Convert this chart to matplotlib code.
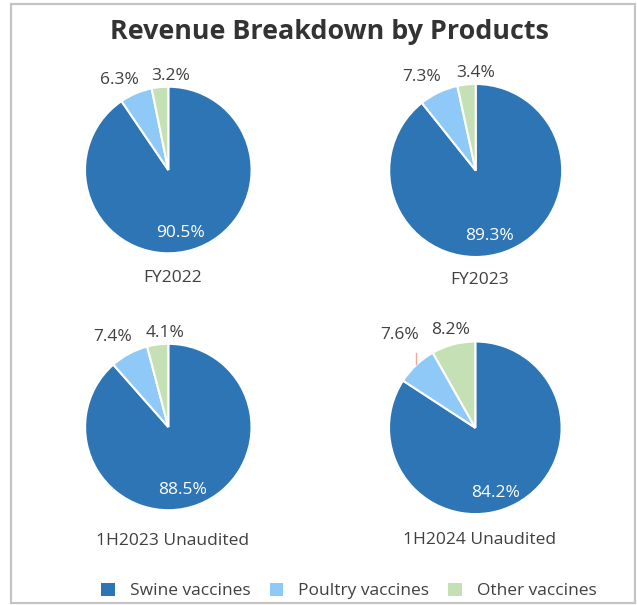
import numpy as np
import matplotlib
matplotlib.use("Agg")
import matplotlib.pyplot as plt
from matplotlib.patches import Patch, Rectangle

plt.rcParams['font.family'] = ['Open Sans', 'DejaVu Sans']

# ---- data ----
periods = ["FY2022", "FY2023", "1H2023 Unaudited", "1H2024 Unaudited"]
categories = ["Swine vaccines", "Poultry vaccines", "Other vaccines"]
swine = [90.5, 89.3, 88.5, 84.2]
poultry = [6.3, 7.3, 7.4, 7.6]
other = [3.2, 3.4, 4.1, 8.2]

colors = ["#2E75B6", "#8FC9F8", "#C5E0B4"]
text_color = "#404040"

W, H = 637, 605
fig = plt.figure(figsize=(W / 100, H / 100), dpi=100)

# frame around chart
fig.patches.append(Rectangle((11 / W, 1 - 603 / H), (635 - 11) / W, (603 - 4) / H,
                             transform=fig.transFigure, fill=False,
                             edgecolor="#C4C4C4", linewidth=1.6))

fig.text(329 / W, 1 - 32 / H, "Revenue Breakdown by Products", ha="center", va="center",
         fontsize=19.4, fontweight="bold", color="#333333")

# pie placement (pixel centres and radii) - layout only
centers = [(168.3, 170.0), (475.7, 170.5), (168.3, 427.0), (475.3, 427.8)]
radii = [83.3, 86.5, 83.2, 86.3]
title_y = [278, 280, 541, 540]
leader = [False, False, False, True]

for i, name in enumerate(periods):
    cx, cy = centers[i]
    r = radii[i]
    ax = fig.add_axes([(cx - r) / W, 1 - (cy + r) / H, 2 * r / W, 2 * r / H])
    vals = [swine[i], poultry[i], other[i]]
    wedges, _ = ax.pie(vals, colors=colors, startangle=90, counterclock=False, radius=1,
                       wedgeprops=dict(edgecolor="white", linewidth=1.5))
    ax.set_xlim(-1, 1)
    ax.set_ylim(-1, 1)
    ax.set_aspect("equal")
    ax.axis("off")
    tot = sum(vals)
    cum = np.cumsum([0] + vals) / tot
    mids = [np.deg2rad(90 - 360 * (cum[k] + cum[k + 1]) / 2) for k in range(3)]
    # swine label inside (near the bottom of the pie)
    ax.text(0.5 * np.cos(mids[0]), -0.755, f"{swine[i]:.1f}%",
            ha="center", va="center", color="white", fontsize=12.5)
    # poultry label outside
    ax.text(np.cos(mids[1]) + 0.03, 1.08, f"{poultry[i]:.1f}%", ha="right", va="center",
            color=text_color, fontsize=12.5, clip_on=False)
    # other label outside
    left_b = np.deg2rad(90 + 360 * other[i] / tot)
    ax.text(1.05 * np.cos(left_b), 1.13, f"{other[i]:.1f}%", ha="left", va="center",
            color=text_color, fontsize=12.5, clip_on=False)
    if leader[i]:
        x0 = np.cos(mids[1])
        ax.plot([x0, x0], [np.sin(mids[1]) + 0.01, 0.87], color="#F2A7A7", lw=1.0,
                clip_on=False)
    fig.text((cx + 4) / W, 1 - title_y[i] / H, name, ha="center", va="center",
             fontsize=12.5, color=text_color)

handles = [Patch(facecolor=c, edgecolor="none") for c in colors]
fig.legend(handles, categories, loc="center", bbox_to_anchor=(349 / W, 1 - 591 / H),
           ncol=3, frameon=False, fontsize=12.5, handlelength=0.8, handleheight=0.8,
           handletextpad=0.86, columnspacing=1.1, labelcolor=text_color)

fig.savefig("out.png", dpi=100, facecolor="white")
